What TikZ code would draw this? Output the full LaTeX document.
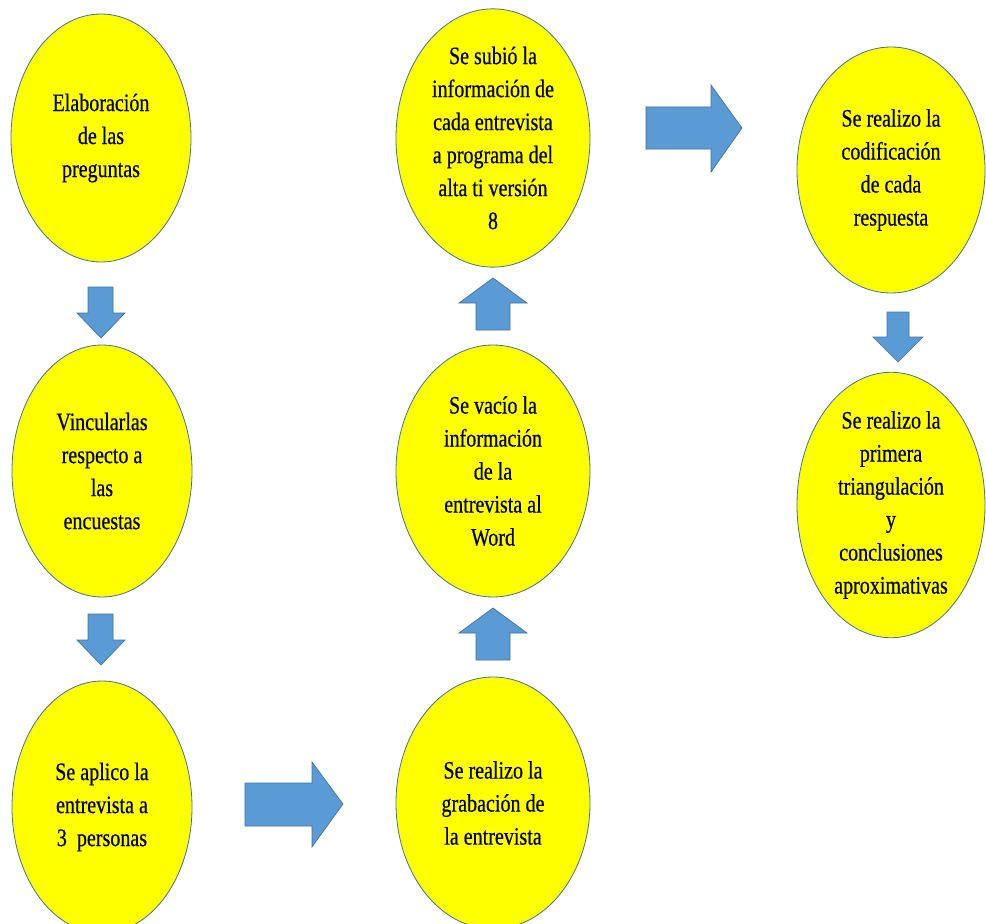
\documentclass[tikz,border=0pt]{standalone}
\usepackage{fontspec}
\usetikzlibrary{shapes.geometric}
\newfontfamily\nfont[FakeStretch=0.8,FakeBold=0.5]{Liberation Serif}
\definecolor{ylw}{HTML}{FFFF00}
\definecolor{edge}{HTML}{41719C}
\definecolor{arrblue}{HTML}{5B9BD5}
\tikzset{
  oval/.style={ellipse, draw=edge, line width=0.6pt, fill=ylw, inner sep=0pt,
    align=center, font=\nfont\fontsize{18.8}{24.75}\selectfont, text=black},
  blockarrow/.style={draw=edge, line width=0.5pt, fill=arrblue, line join=miter}
}
\begin{document}
\begin{tikzpicture}[x=0.75pt,y=-0.75pt]
\useasboundingbox (0,0) rectangle (986,924);
% ovals (sizes in pt = px * 0.75)
\node[oval, minimum width=135pt, minimum height=186pt] (e1) at (101,138) {Elaboración\\de las\\preguntas};
\node[oval, minimum width=135pt, minimum height=189pt] (e2) at (102,471) {Vincularlas\\respecto a\\las\\encuestas};
\node[oval, minimum width=135pt, minimum height=189pt] (e3) at (102,807) {Se aplico la\\entrevista a\\3~~personas};
\node[oval, minimum width=145.5pt, minimum height=186pt] (e4) at (493,138) {Se subió la\\información de\\cada entrevista\\a programa del\\alta ti versión\\8};
\node[oval, minimum width=145.5pt, minimum height=189pt] (e5) at (493,471) {Se vacío la\\información\\de la\\entrevista al\\Word};
\node[oval, minimum width=145.5pt, minimum height=189pt] (e6) at (493,803) {Se realizo la\\grabación de\\la entrevista};
\node[oval, minimum width=141pt, minimum height=184.5pt] (e7) at (891,170) {Se realizo la\\codificación\\de cada\\respuesta};
\node[oval, minimum width=141pt, minimum height=187.5pt] (e8) at (891,505) {Se realizo la\\primera\\triangulación\\y\\conclusiones\\aproximativas};
% block arrows
% down arrow e1 -> e2
\draw[blockarrow] (88,287) -- (113,287) -- (113,313) -- (125,313) -- (101,338) -- (77,313) -- (88,313) -- cycle;
% down arrow e2 -> e3
\draw[blockarrow] (88,614) -- (113,614) -- (113,640) -- (125,640) -- (101,665) -- (77,640) -- (88,640) -- cycle;
% right arrow e3 -> e6
\draw[blockarrow] (245,783) -- (312,783) -- (312,762) -- (343,804) -- (312,847) -- (312,826) -- (245,826) -- cycle;
% up arrow e6 -> e5
\draw[blockarrow] (476,660) -- (510,660) -- (510,633) -- (527,633) -- (493,608) -- (459,633) -- (476,633) -- cycle;
% up arrow e5 -> e4
\draw[blockarrow] (476,330) -- (510,330) -- (510,303) -- (527,303) -- (493,278) -- (459,303) -- (476,303) -- cycle;
% right arrow e4 -> e7
\draw[blockarrow] (646,107) -- (711,107) -- (711,85) -- (742,128) -- (711,172) -- (711,149) -- (646,149) -- cycle;
% down arrow e7 -> e8
\draw[blockarrow] (887,312) -- (909,312) -- (909,337) -- (923,337) -- (898,362) -- (873,337) -- (887,337) -- cycle;
\end{tikzpicture}
\end{document}
